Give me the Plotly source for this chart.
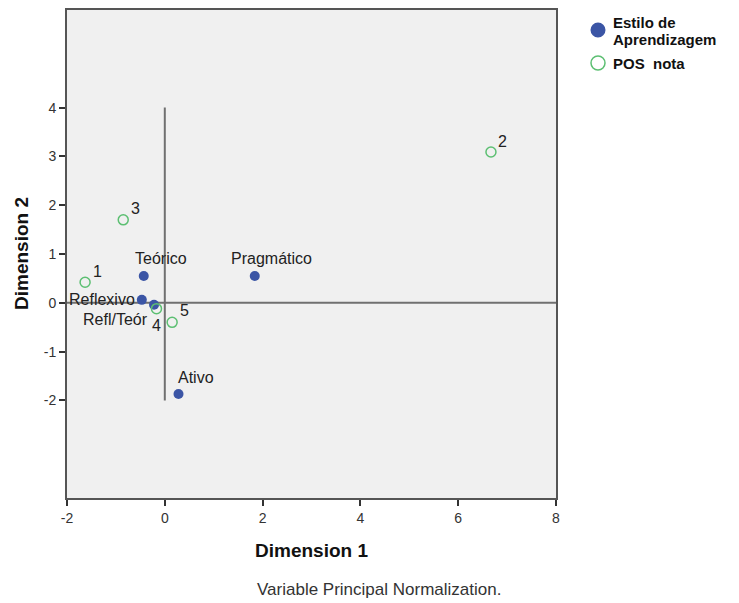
import plotly.graph_objects as go

# Data
estilo_labels = ["Teórico", "Pragmático", "Reflexivo", "Refl/Teór", "Ativo"]
estilo_x = [-0.43, 1.84, -0.47, -0.22, 0.28]
estilo_y = [0.55, 0.55, 0.06, -0.04, -1.87]

pos_labels = ["1", "2", "3", "4", "5"]
pos_x = [-1.63, 6.67, -0.85, -0.17, 0.15]
pos_y = [0.42, 3.09, 1.70, -0.12, -0.40]

x_ticks = [-2, 0, 2, 4, 6, 8]
x_ticktext = ["-2", "0", "2", "4", "6", "8"]
y_ticks = [-2, -1, 0, 1, 2, 3, 4]
y_ticktext = ["-2", "-1", "0", "1", "2", "3", "4"]

BLUE = "#3b55a5"
GREEN = "#5cbf72"
LINE = "#707070"
FONT = "Liberation Sans, Arial, sans-serif"

# figure geometry (page has an 8px body margin)
W, H = 731, 595
L, R, T, B = 59, 183, 2, 105
PW, PH = W - L - R, H - T - B


def px(fx):
    return (fx - L) / PW


def py(fy):
    return (H - B - fy) / PH


fig = go.Figure()

# reference lines
fig.add_trace(go.Scatter(x=[0, 0], y=[-2, 4], mode="lines",
                         line=dict(color=LINE, width=2), showlegend=False, hoverinfo="skip"))
fig.add_trace(go.Scatter(x=[-2, 8], y=[0, 0], mode="lines",
                         line=dict(color=LINE, width=2), showlegend=False, hoverinfo="skip"))

fig.add_trace(go.Scatter(x=estilo_x, y=estilo_y, mode="markers",
                         name="Estilo de Aprendizagem", showlegend=False,
                         marker=dict(color=BLUE, size=10, line=dict(width=0))))
fig.add_trace(go.Scatter(x=pos_x, y=pos_y, mode="markers",
                         name="POS  nota", showlegend=False,
                         marker=dict(color="rgba(0,0,0,0)", size=10,
                                     line=dict(color=GREEN, width=1.5))))

# label offsets (pixels) for point labels
estilo_off = {"Teórico": (17, 17, "center"), "Pragmático": (17, 17, "center"),
              "Reflexivo": (-5, 0, "right"), "Refl/Teór": (-4, -15, "right"),
              "Ativo": (18, 17, "center")}
pos_off = {"1": (12, 11, "center"), "2": (12, 11, "center"), "3": (12, 11, "center"),
           "4": (0, -17, "center"), "5": (12, 12, "center")}

LABEL_FONT = dict(family=FONT, size=16, color="#222222")
for lab, x, y in zip(estilo_labels, estilo_x, estilo_y):
    dx, dy, xa = estilo_off[lab]
    fig.add_annotation(x=x, y=y, text=lab, showarrow=False, xshift=dx, yshift=dy,
                       xanchor=xa, yanchor="middle", font=LABEL_FONT)
for lab, x, y in zip(pos_labels, pos_x, pos_y):
    dx, dy, xa = pos_off[lab]
    fig.add_annotation(x=x, y=y, text=lab, showarrow=False, xshift=dx, yshift=dy,
                       xanchor=xa, yanchor="middle", font=LABEL_FONT)

# axis titles
fig.add_annotation(text="<b>Dimension 1</b>", xref="paper", yref="paper",
                   x=px(303), y=py(542), xanchor="center", yanchor="middle", showarrow=False,
                   font=dict(family=FONT, size=19, color="#111111"))
fig.add_annotation(text="<b>Dimension 2</b>", xref="paper", yref="paper", textangle=-90,
                   x=px(13), y=py(246), xanchor="center", yanchor="middle", showarrow=False,
                   font=dict(family=FONT, size=19, color="#111111"))

# footnote
fig.add_annotation(text="Variable Principal Normalization.", xref="paper", yref="paper",
                   x=px(371), y=py(582), xanchor="center", yanchor="middle", showarrow=False,
                   font=dict(family=FONT, size=17, color="#333333"))

# custom legend
R_MK = 7.5
fig.add_shape(type="circle", xref="paper", yref="paper",
              x0=px(590 - R_MK), x1=px(590 + R_MK), y0=py(22 + R_MK), y1=py(22 - R_MK),
              fillcolor=BLUE, line=dict(width=0))
fig.add_shape(type="circle", xref="paper", yref="paper",
              x0=px(590 - 7), x1=px(590 + 7), y0=py(55 + 7), y1=py(55 - 7),
              fillcolor="rgba(0,0,0,0)", line=dict(color=GREEN, width=1.5))
LEG_FONT = dict(family=FONT, size=15, color="#111111")
for txt, fy in [("<b>Estilo de</b>", 14), ("<b>Aprendizagem</b>", 31), ("<b>POS  nota</b>", 56)]:
    fig.add_annotation(text=txt, xref="paper", yref="paper", x=px(603), y=py(fy),
                       xanchor="left", yanchor="middle", showarrow=False, font=LEG_FONT)

fig.update_xaxes(range=[-2, 8], tickvals=x_ticks, ticktext=x_ticktext, ticks="outside",
                 ticklen=6, tickcolor="#333333", tickwidth=1.5,
                 showgrid=False, zeroline=False, showline=True, linecolor="#555555",
                 linewidth=2, mirror=True,
                 tickfont=dict(family=FONT, size=14, color="#333333"))
fig.update_yaxes(range=[-4, 6], tickvals=y_ticks, ticktext=y_ticktext, ticks="outside",
                 ticklen=6, tickcolor="#333333", tickwidth=1.5,
                 showgrid=False, zeroline=False, showline=True, linecolor="#555555",
                 linewidth=2, mirror=True,
                 tickfont=dict(family=FONT, size=14, color="#333333"))

fig.update_layout(
    width=W, height=H,
    margin=dict(l=L, r=R, t=T, b=B, autoexpand=False),
    plot_bgcolor="#f0f0f0", paper_bgcolor="white",
    font=dict(family=FONT),
    showlegend=False,
)

fig.write_html("out.html")
